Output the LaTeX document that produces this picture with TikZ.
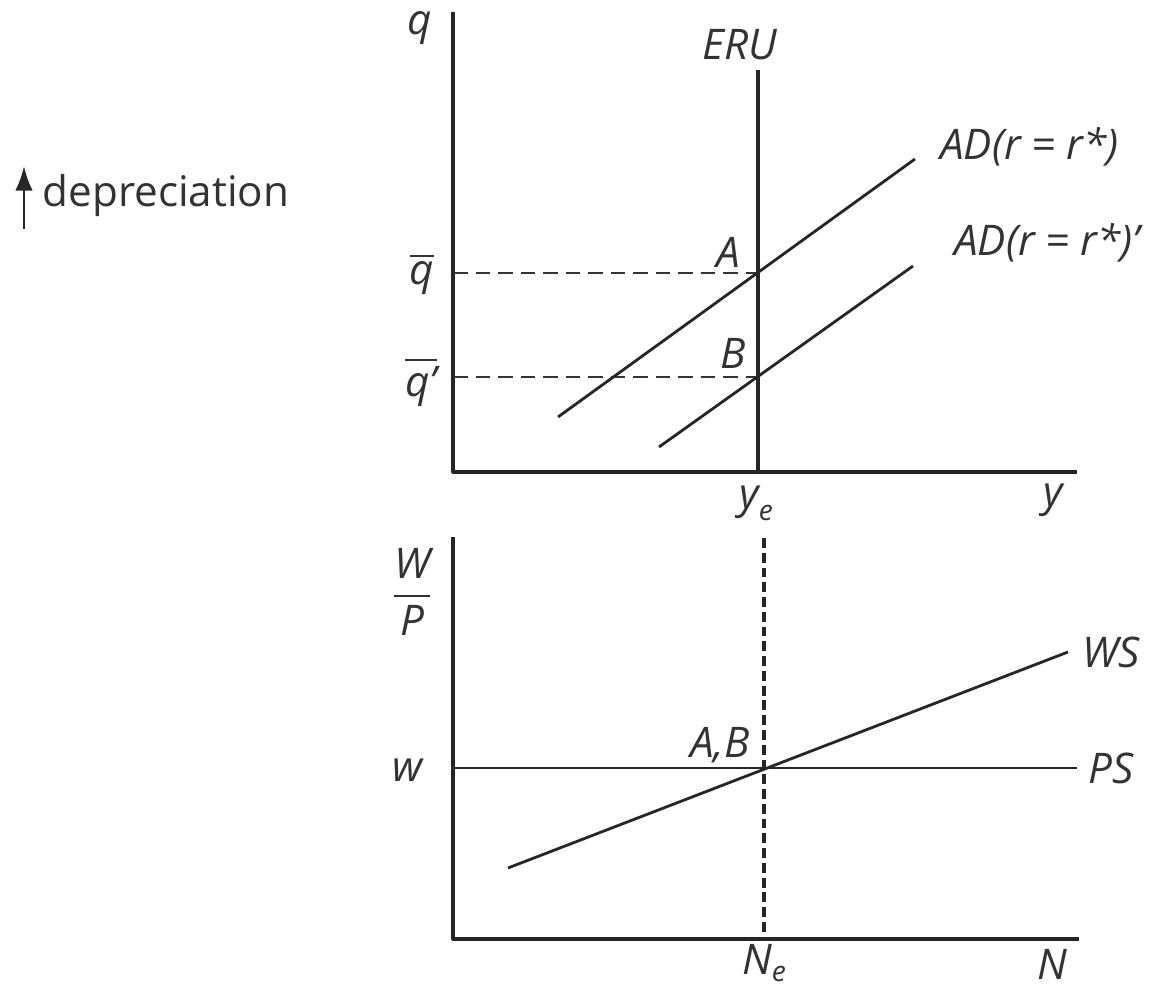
\documentclass[tikz,border=0pt]{standalone}
\usepackage{amsmath}
\usepackage{fontspec}
\setmainfont{Open Sans}
\usetikzlibrary{arrows.meta}
\begin{document}
\begin{tikzpicture}[x=0.01cm, y=-0.01cm, >=latex, line join=round,
  lbl/.style={font=\fontsize{12}{14}\selectfont\itshape, text=black!80, inner sep=1pt},
  axis/.style={line width=0.9pt, black!85},
  curve/.style={line width=0.8pt, black!85},
  guide/.style={line width=0.6pt, dash pattern=on 4.2pt off 2.2pt, black!80},
  nguide/.style={line width=1.1pt, dash pattern=on 2.8pt off 1.4pt, black!85}]
  \useasboundingbox (0,0) rectangle (1164,989);

  % Upper panel: q against y
  \coordinate (O1) at (453,472);
  \coordinate (Qtop) at (453,12);
  \coordinate (Yend) at (1077,472);
  \coordinate (ERUtop) at (758,70);
  \coordinate (ERUbot) at (758,472);
  \coordinate (A) at (758,273);
  \coordinate (B) at (758,377);
  \coordinate (qbar) at (453,273);
  \coordinate (qbarp) at (453,377);
  \coordinate (ADlo) at (558,417);
  \coordinate (ADhi) at (915,159);
  \coordinate (ADplo) at (659,447);
  \coordinate (ADphi) at (913,266);

  \draw[axis] (Qtop) -- (O1) -- (Yend);
  \draw[axis] (ERUtop) -- (ERUbot);
  \draw[guide] (qbar) -- (A);
  \draw[guide] (qbarp) -- (B);
  \draw[curve] (ADlo) -- (ADhi);
  \draw[curve] (ADplo) -- (ADphi);

  % Lower panel: W/P against N
  \coordinate (O2) at (453,939);
  \coordinate (WPtop) at (453,537);
  \coordinate (Nend) at (1079,939);
  \coordinate (PSlo) at (453,768);
  \coordinate (PShi) at (1077,768);
  \coordinate (WSlo) at (508,868);
  \coordinate (WShi) at (1068,652);
  \coordinate (Netop) at (764,538);
  \coordinate (Nebot) at (764,939);

  \draw[axis] (WPtop) -- (O2) -- (Nend);
  \draw[curve] (PSlo) -- (PShi);
  \draw[curve] (WSlo) -- (WShi);
  \draw[nguide] (Netop) -- (Nebot);

  % Depreciation arrow
  \coordinate (depbot) at (24,229);
  \coordinate (deptop) at (24,166);
  \draw[-{Latex[length=7pt,width=5pt]}, line width=0.8pt, black!85] (depbot) -- (deptop);
  \node[anchor=west, font=\fontsize{12}{14}\selectfont, text=black!80, inner sep=0pt] (deplbl) at (42,196) {depreciation};

  % Labels
  \node[lbl] (qlbl) at (420,28) {q};
  \node[lbl] (erulbl) at (740,45) {ERU};
  \node[lbl] (qbarlbl) at (422,274) {$\overline{\textit{q}}$};
  \node[lbl] (qbarplbl) at (421,382) {$\overline{\textit{q’}}$};
  \node[lbl] (albl) at (728,252) {A};
  \node[lbl] (blbl) at (733,353) {B};
  \node[lbl, anchor=west] (adlbl) at (936,147) {AD(r = r*)};
  \node[lbl, anchor=west] (adplbl) at (950,243) {AD(r = r*)’};
  \node[lbl] (yelbl) at (757,503) {$\textit{y}_{\textit{e}}$};
  \node[lbl] (ylbl) at (1053,500) {y};

  \node[lbl] (wplbl) at (412,592) {$\displaystyle\frac{\textit{W}}{\textit{P}}$};
  \node[lbl] (wlbl) at (408,770) {w};
  \node[lbl] (ablbl) at (720,745) {A,B};
  \node[lbl, anchor=west] (pslbl) at (1084,768) {PS};
  \node[lbl, anchor=west] (wslbl) at (1078,652) {WS};
  \node[lbl] (nelbl) at (765,963) {$\textit{N}_{\textit{e}}$};
  \node[lbl] (nlbl) at (1052,964) {N};
\end{tikzpicture}
\end{document}
